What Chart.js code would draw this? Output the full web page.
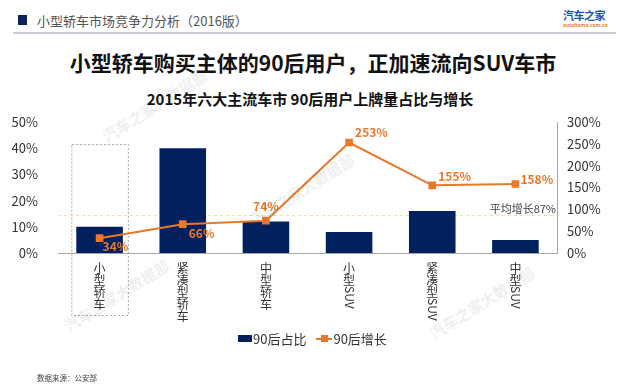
<!DOCTYPE html>
<html>
<head>
<meta charset="utf-8">
<script src="https://cdn.jsdelivr.net/npm/chart.js@4/dist/chart.umd.min.js"></script>
<style>
  html, body { margin: 0; padding: 0; background: #fff; }
  body { width: 620px; height: 386px; position: relative; overflow: hidden;
         font-family: "Noto Sans CJK SC", "Noto Sans", sans-serif; }
  .abs { position: absolute; white-space: nowrap; }
  #wrap { position: absolute; left: 0; top: 0; width: 620px; height: 386px; }
  .wm { position: absolute; color: rgba(0,0,0,0.07); font-size: 15px; font-weight: bold;
        transform: rotate(-32deg); transform-origin: left top; white-space: nowrap; }
</style>
</head>
<body>
  <div class="abs" style="left:18px;top:15px;width:9px;height:10px;background:#0b2160;"></div>
  <div class="abs" style="left:37px;top:11px;font-size:13px;color:#555;">小型轿车市场竞争力分析（2016版）</div>
  <div class="abs" style="left:563px;top:7px;font-size:11px;font-weight:bold;color:#1b55b5;letter-spacing:-0.5px;">汽车之家</div>
  <div class="abs" style="left:563px;top:21px;font-size:5px;color:#e8782a;font-weight:bold;">autohome.com.cn</div>
  <div class="abs" style="left:13px;top:32px;width:603px;height:2px;background:#c9ced6;"></div>
  <div class="abs" style="left:0;width:620px;top:47px;text-align:center;font-size:21px;font-weight:bold;color:#111;padding-left:3px;">小型轿车购买主体的90后用户，正加速流向SUV车市</div>
  <div class="abs" style="left:0;width:620px;top:88px;text-align:center;font-size:15px;font-weight:bold;color:#111;">2015年六大主流车市 90后用户上牌量占比与增长</div>

  <div id="wrap"><canvas id="chart"></canvas></div>

  <div class="abs" style="left:238px;top:329px;font-size:13px;color:#333;display:flex;align-items:center;">
    <span style="display:inline-block;width:14px;height:7px;background:#002060;margin-right:1px;"></span>
    <span>90后占比</span>
    <span style="display:inline-block;position:relative;width:16px;height:2px;background:#e8782a;margin:0 1px 0 10px;">
      <span style="position:absolute;left:5px;top:-3px;width:7px;height:7px;background:#e8782a;"></span>
    </span>
    <span>90后增长</span>
  </div>
  <div class="abs" style="left:37px;top:372px;font-size:7.5px;color:#444;">数据来源：公安部</div>

  <div class="wm" style="left:98px;top:128px;">汽车之家大数据部</div>
  <div class="wm" style="left:245px;top:212px;">汽车之家大数据部</div>
  <div class="wm" style="left:60px;top:318px;">汽车之家大数据部</div>
  <div class="wm" style="left:425px;top:325px;">汽车之家大数据部</div>

<script>
  const categories = ['小型轿车', '紧凑型轿车', '中型轿车', '小型SUV', '紧凑型SUV', '中型SUV'];
  const shareValues = [10, 40, 12, 8, 16, 5];          // 90后占比 (%)
  const growthValues = [34, 66, 74, 253, 155, 158];    // 90后增长 (%)
  const averageGrowth = 87;
  const leftTicks = [0, 10, 20, 30, 40, 50];
  const rightTicks = [0, 50, 100, 150, 200, 250, 300];

  const navy = '#002060';
  const orange = '#e8782a';
  const cjk = '"Noto Sans CJK SC", "Noto Sans", sans-serif';

  // label offsets around each growth point: [dx, dy, align]
  const growthLabelOffsets = [
    [3, 8, 'left'], [6, 9, 'left'], [0, -14, 'center'],
    [6, -10, 'left'], [6, -9, 'left'], [5, -5, 'left']
  ];

  const extras = {
    id: 'extras',
    beforeDatasetsDraw(chart) {
      const { ctx, chartArea, scales } = chart;
      const y1 = scales.y1;
      const x = scales.x;
      // dashed box around first category
      const step = x.getPixelForTick(1) - x.getPixelForTick(0);
      const cx0 = x.getPixelForTick(0);
      ctx.save();
      ctx.strokeStyle = '#a8a8a8';
      ctx.lineWidth = 1;
      ctx.setLineDash([2, 2]);
      ctx.strokeRect(cx0 - step * 0.34 + 0.5, chartArea.top + 22.5, step * 0.68, 171);
      // average growth line
      const ay = Math.round(y1.getPixelForValue(averageGrowth)) + 0.5;
      ctx.strokeStyle = '#ede3a0';
      ctx.setLineDash([3, 3]);
      ctx.beginPath();
      ctx.moveTo(chartArea.left, ay);
      ctx.lineTo(chartArea.right, ay);
      ctx.stroke();
      ctx.setLineDash([]);
      ctx.fillStyle = '#404040';
      ctx.font = '11px ' + cjk;
      ctx.textAlign = 'right';
      ctx.textBaseline = 'bottom';
      ctx.fillText('平均增长' + averageGrowth + '%', chartArea.right - 1, ay - 1);
      ctx.restore();
    },
    afterDatasetsDraw(chart) {
      const { ctx, scales } = chart;
      const x = scales.x;
      ctx.save();
      // growth value labels
      const meta = chart.getDatasetMeta(1);
      ctx.font = 'bold 12px ' + cjk;
      ctx.fillStyle = orange;
      ctx.textBaseline = 'middle';
      meta.data.forEach((pt, i) => {
        const [dx, dy, al] = growthLabelOffsets[i];
        ctx.textAlign = al;
        ctx.fillText(growthValues[i] + '%', pt.x + dx, pt.y + dy);
      });
      // vertical category labels
      ctx.font = '12px ' + cjk;
      ctx.fillStyle = '#333';
      ctx.textAlign = 'center';
      ctx.textBaseline = 'top';
      categories.forEach((label, i) => {
        const cx = x.getPixelForTick(i);
        let y = chart.chartArea.bottom + 9;
        const parts = label.match(/[A-Za-z]+|./g);
        parts.forEach(p => {
          if (/^[A-Za-z]+$/.test(p)) {
            const w = ctx.measureText(p).width;
            ctx.save();
            ctx.translate(cx, y + w / 2);
            ctx.rotate(Math.PI / 2);
            ctx.textBaseline = 'middle';
            ctx.fillText(p, 0, 0);
            ctx.restore();
            y += w;
          } else {
            ctx.fillText(p, cx, y);
            y += 12;
          }
        });
      });
      ctx.restore();
    }
  };

  new Chart(document.getElementById('chart'), {
    data: {
      labels: categories,
      datasets: [
        {
          type: 'bar',
          label: '90后占比',
          data: shareValues,
          backgroundColor: navy,
          yAxisID: 'y',
          barPercentage: 0.56,
          categoryPercentage: 1,
          order: 2
        },
        {
          type: 'line',
          label: '90后增长',
          data: growthValues,
          borderColor: orange,
          backgroundColor: orange,
          borderWidth: 2,
          pointStyle: 'rect',
          pointRadius: 4,
          yAxisID: 'y1',
          order: 1
        }
      ]
    },
    options: {
      responsive: true,
      maintainAspectRatio: false,
      animation: false,
      layout: { padding: { top: 122, bottom: 123, left: 0, right: 0 } },
      plugins: { legend: { display: false }, tooltip: { enabled: false } },
      scales: {
        x: {
          grid: { display: true, drawOnChartArea: false, drawTicks: false },
          border: { color: '#a6a6a6', width: 1 },
          ticks: { display: false },
          afterFit(s) { s.height = 10; }
        },
        y: {
          position: 'left',
          min: 0, max: 50,
          afterBuildTicks(s) { s.ticks = leftTicks.map(v => ({ value: v })); },
          grid: { display: false },
          border: { display: false },
          ticks: {
            padding: 12,
            color: '#333',
            font: { family: cjk, size: 13 },
            callback: v => v + '%'
          },
          afterFit(s) { s.width = 58; }
        },
        y1: {
          position: 'right',
          min: 0, max: 300,
          afterBuildTicks(s) { s.ticks = rightTicks.map(v => ({ value: v })); },
          grid: { display: true, drawOnChartArea: false, drawTicks: false },
          border: { color: '#a6a6a6', width: 1 },
          ticks: {
            padding: 10,
            color: '#333',
            font: { family: cjk, size: 13 },
            callback: v => v + '%'
          },
          afterFit(s) { s.width = 63; }
        }
      }
    },
    plugins: [extras]
  });
</script>
</body>
</html>
